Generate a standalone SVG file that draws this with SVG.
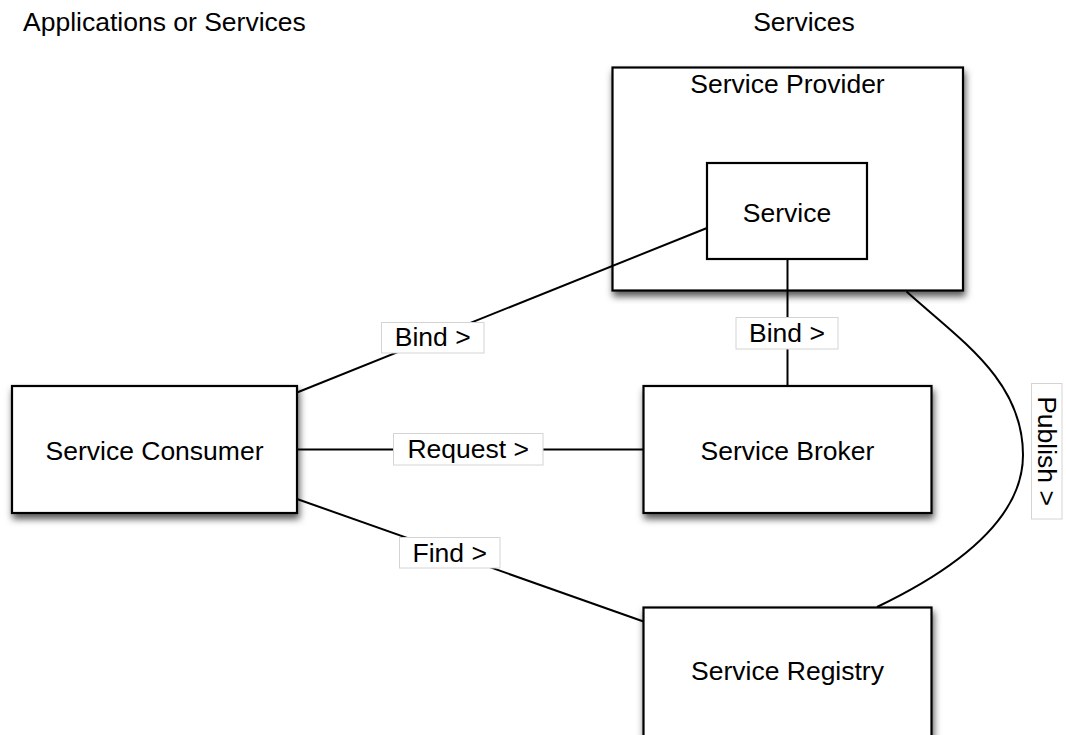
<svg xmlns="http://www.w3.org/2000/svg" width="1066" height="735" viewBox="0 0 1066 735">
  <defs>
    <filter id="shadow" x="-10%" y="-10%" width="125%" height="135%">
      <feDropShadow dx="1.5" dy="5" stdDeviation="3.5" flood-color="#000" flood-opacity="0.65"/>
    </filter>
    <style>
      text { font-family: "Liberation Sans", Arial, sans-serif; font-size: 26.5px; fill: #000; }
      .node { fill: #fff; stroke: #000; stroke-width: 2.2; }
      .conn { fill: none; stroke: #000; stroke-width: 2; }
      .lbl { fill: #fff; stroke: #d4d4d4; stroke-width: 1; }
      .mid { text-anchor: middle; }
    </style>
  </defs>
  <rect width="1066" height="735" fill="#fff"/>

  <g id="headings">
    <text x="23" y="31">Applications or Services</text>
    <text x="804" y="31" class="mid">Services</text>
  </g>

  <g id="service-provider">
    <rect class="node" x="612.5" y="67.5" width="350.5" height="223" filter="url(#shadow)"/>
    <text x="787.5" y="93" class="mid">Service Provider</text>
  </g>

  <g id="service-consumer">
    <rect class="node" x="12" y="386" width="285" height="127" filter="url(#shadow)"/>
    <text x="154.5" y="459.5" class="mid">Service Consumer</text>
  </g>

  <g id="service-broker">
    <rect class="node" x="643.5" y="386" width="288" height="127" filter="url(#shadow)"/>
    <text x="787.5" y="459.5" class="mid">Service Broker</text>
  </g>

  <g id="service-registry">
    <rect class="node" x="643.5" y="607.5" width="288" height="140" filter="url(#shadow)"/>
    <text x="787.5" y="680" class="mid">Service Registry</text>
  </g>

  <g id="connectors">
    <line class="conn" x1="297" y1="392.5" x2="707" y2="228"/>
    <line class="conn" x1="297" y1="449.5" x2="643.5" y2="449.5"/>
    <line class="conn" x1="297" y1="499" x2="643.5" y2="621.5"/>
    <line class="conn" x1="787.5" y1="259" x2="787.5" y2="386"/>
    <path class="conn" d="M906.5,291.5 C960,340 1023,380 1023,455 C1023,510 975,560 877,607"/>
  </g>

  <g id="service">
    <rect class="node" x="707" y="163" width="160" height="96"/>
    <text x="787" y="221.5" class="mid">Service</text>
  </g>

  <g id="labels">
    <g id="label-bind-1">
      <rect class="lbl" x="381.5" y="322.5" width="102.5" height="30.5"/>
      <text x="432.7" y="346" class="mid">Bind &gt;</text>
    </g>
    <g id="label-request">
      <rect class="lbl" x="393.5" y="433.5" width="149.5" height="31.5"/>
      <text x="468.2" y="457.5" class="mid">Request &gt;</text>
    </g>
    <g id="label-find">
      <rect class="lbl" x="399.5" y="537.5" width="100.5" height="30.5"/>
      <text x="449.7" y="561.5" class="mid">Find &gt;</text>
    </g>
    <g id="label-bind-2">
      <rect class="lbl" x="736" y="317.5" width="102" height="31.5"/>
      <text x="787" y="341.5" class="mid">Bind &gt;</text>
    </g>
    <g id="label-publish">
      <rect class="lbl" x="1031.5" y="383.5" width="30.5" height="135.5"/>
      <text x="0" y="0" class="mid" transform="translate(1037.5,451) rotate(90)">Publish &gt;</text>
    </g>
  </g>
</svg>
